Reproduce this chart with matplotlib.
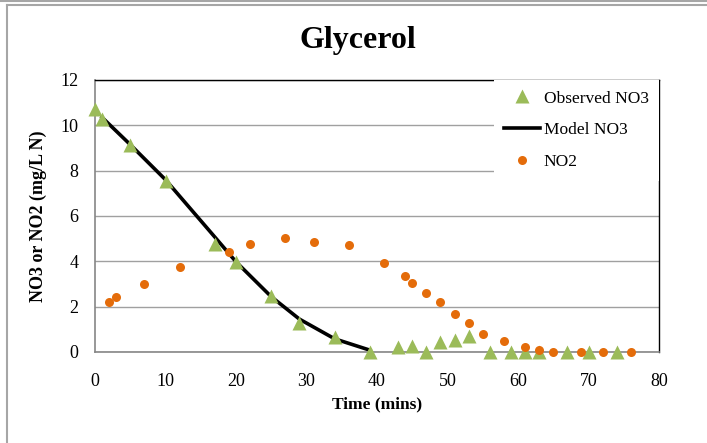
import numpy as np
import matplotlib
matplotlib.use("Agg")
import matplotlib.pyplot as plt
from matplotlib.lines import Line2D

plt.rcParams['font.family'] = ['Liberation Serif', 'DejaVu Serif']

# observed nitrate (mg/L N)
obs_t = [0, 1, 5, 10, 17, 20, 25, 29, 34, 39, 43, 45, 47, 49, 51, 53, 56, 59, 61, 63, 67, 70, 74]
obs_no3 = [10.7, 10.3, 9.12, 7.55, 4.78, 3.98, 2.45, 1.27, 0.64, 0.02, 0.22, 0.28, 0.02, 0.45, 0.53, 0.72,
           0.0, 0.0, 0.0, 0.0, 0.0, 0.0, 0.0]

# fitted model
model_t = [1, 5, 10, 17, 20, 25, 29, 34, 39]
model_no3 = [10.35, 9.15, 7.6, 5.07, 3.98, 2.44, 1.45, 0.58, 0.08]

# nitrite
no2_t = [2, 3, 7, 12, 19, 22, 27, 31, 36, 41, 44, 45, 47, 49, 51, 53, 55, 58, 61, 63, 65, 69, 72, 76]
no2 = [2.22, 2.41, 3.0, 3.76, 4.42, 4.76, 5.05, 4.87, 4.71, 3.91, 3.35, 3.06, 2.62, 2.19, 1.66, 1.29,
       0.78, 0.5, 0.24, 0.09, 0.02, 0.0, 0.0, 0.0]

green = '#9bbb59'
orange = '#e46c0a'

fig = plt.figure(figsize=(7.07, 4.43), dpi=100)
ax = fig.add_axes([95/707, 1-352/443, 564/707, 272/443])

ax.plot(obs_t, obs_no3, '^', color=green, ms=10.5, mec='none', label='Observed NO3', zorder=3, clip_on=False)
ax.plot(model_t, model_no3, '-', color='black', lw=2.6, label='Model NO3', zorder=2)
ax.plot(no2_t, no2, 'o', color=orange, ms=6.5, mec='none', label='NO2', zorder=3, clip_on=False)

ax.set_xlim(0, 80)
ax.set_ylim(0, 12)
ax.set_xticks(np.arange(0, 81, 10))
ax.set_yticks(np.arange(0, 13, 2))
ax.grid(axis='y', color='#a0a0a0', lw=1.0)
ax.set_axisbelow(True)
ax.tick_params(length=0, labelsize=13)
ax.tick_params(axis='x', pad=15)
ax.tick_params(axis='y', pad=12)

for s in ['top', 'right']:
    ax.spines[s].set_color('black')
    ax.spines[s].set_linewidth(1.0)
for s in ['left', 'bottom']:
    ax.spines[s].set_color('#868686')
    ax.spines[s].set_linewidth(1.2)

ax.set_xlabel('Time (mins)', fontsize=12.5, fontweight='bold', va='center')
ax.xaxis.set_label_coords(0.5, (352-404)/272)
ax.set_ylabel('NO3 or NO2 (mg/L N)', fontsize=13, fontweight='bold', va='center')
ax.yaxis.set_label_coords((38-95)/564, 0.5)

leg = ax.legend(loc='upper right', bbox_to_anchor=(1.0, 1.0), borderaxespad=0, frameon=True,
                fancybox=False, edgecolor='none', facecolor='white', framealpha=1,
                fontsize=12.5, handlelength=2.07, handletextpad=0.2, borderpad=0.6,
                labelspacing=0.9, numpoints=1)
leg.get_frame().set_linewidth(0)

fig.text(358/707, 1-48/443, 'Glycerol', fontsize=23, fontweight='bold', ha='center', va='baseline')

# chart area outline
edge = '#a6a6a6'
fig.add_artist(Line2D([7/707, 7/707], [0, 1-5/443], transform=fig.transFigure, color=edge, lw=1.5))
fig.add_artist(Line2D([7/707, 1], [1-5/443, 1-5/443], transform=fig.transFigure, color=edge, lw=1.5))
fig.add_artist(Line2D([0, 1], [1-1/443, 1-1/443], transform=fig.transFigure, color=edge, lw=1.5))

fig.savefig('out.png', dpi=100)
